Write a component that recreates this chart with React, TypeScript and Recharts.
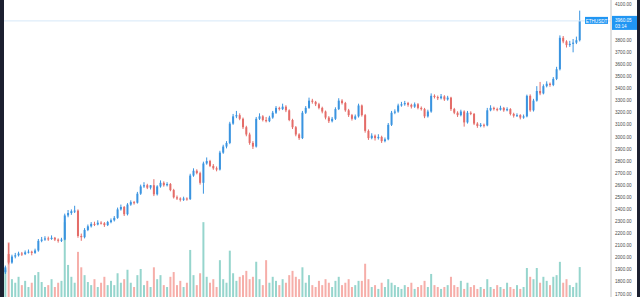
import React from "react";
import { ComposedChart, Bar, Cell, XAxis, YAxis, ReferenceLine } from "recharts";

// ETHUSDT 4h candles
const opens = [
  1880, 2030, 1960, 2010, 2020, 2035, 2030, 2045, 2050, 2040,
  2060, 2140, 2150, 2160, 2155, 2165, 2150, 2140, 2150, 2350,
  2370, 2385, 2390, 2180, 2170, 2230, 2260, 2280, 2275, 2290,
  2285, 2270, 2295, 2310, 2330, 2400, 2420, 2360, 2440, 2460,
  2455, 2530, 2590, 2600, 2580, 2600, 2525, 2590, 2620, 2600,
  2610, 2560, 2500, 2490, 2480, 2490, 2485, 2680, 2720, 2700,
  2620, 2780, 2800, 2760, 2740, 2730, 2870, 2920, 2950, 3110,
  3170, 3180, 3150, 3080, 3020, 2950, 2920, 3150, 3170, 3140,
  3130, 3160, 3200, 3240, 3230, 3250, 3220, 3140, 3080, 3020,
  2990, 3200, 3240, 3300, 3290, 3270, 3240, 3210, 3160, 3130,
  3150, 3230, 3300, 3280, 3220, 3180, 3150, 3170, 3260, 3180,
  3050, 2990, 3010, 2990, 3000, 2965, 2980, 3100, 3200, 3210,
  3260, 3270, 3280, 3265, 3250, 3270, 3240, 3230, 3170, 3210,
  3340, 3330, 3320, 3335, 3310, 3325, 3230, 3200, 3180, 3210,
  3120, 3200, 3190, 3110, 3090, 3100, 3095, 3220, 3240, 3230,
  3225, 3240, 3220, 3230, 3190, 3175, 3180, 3160, 3170, 3340,
  3220, 3300, 3380, 3360, 3420, 3440, 3430, 3480, 3560, 3820,
  3790, 3760, 3770, 3780, 3800,
];
const highs = [
  1935, 2120, 2025, 2040, 2050, 2048, 2060, 2068, 2058, 2075,
  2155, 2172, 2178, 2175, 2185, 2172, 2160, 2165, 2365, 2395,
  2400, 2430, 2400, 2200, 2245, 2275, 2295, 2298, 2310, 2302,
  2295, 2305, 2325, 2345, 2415, 2440, 2428, 2452, 2475, 2470,
  2545, 2605, 2625, 2612, 2600, 2650, 2600, 2640, 2632, 2625,
  2618, 2570, 2515, 2500, 2505, 2500, 2695, 2740, 2732, 2712,
  2795, 2830, 2810, 2775, 2755, 2885, 2935, 2965, 3125, 3190,
  3215, 3195, 3160, 3092, 3035, 2965, 3165, 3195, 3180, 3165,
  3175, 3215, 3255, 3250, 3275, 3262, 3228, 3150, 3090, 3030,
  3215, 3255, 3325, 3315, 3298, 3282, 3250, 3218, 3172, 3165,
  3245, 3320, 3312, 3290, 3232, 3190, 3185, 3275, 3268, 3190,
  3062, 3030, 3020, 3022, 3010, 2995, 3115, 3215, 3228, 3275,
  3290, 3298, 3290, 3275, 3285, 3280, 3252, 3240, 3225, 3360,
  3352, 3342, 3355, 3345, 3340, 3332, 3240, 3212, 3225, 3220,
  3215, 3212, 3198, 3122, 3115, 3110, 3240, 3262, 3250, 3242,
  3258, 3248, 3245, 3238, 3200, 3195, 3188, 3185, 3350, 3352,
  3315, 3420, 3455, 3435, 3460, 3450, 3495, 3580, 3840, 3835,
  3800, 3795, 3810, 3830, 4045,
];
const lows = [
  1865, 1945, 1950, 1995, 2010, 2015, 2022, 2035, 2020, 2032,
  2050, 2128, 2140, 2140, 2148, 2138, 2125, 2130, 2145, 2335,
  2355, 2370, 2165, 2140, 2160, 2220, 2250, 2262, 2268, 2275,
  2255, 2262, 2285, 2300, 2322, 2390, 2345, 2350, 2430, 2440,
  2448, 2520, 2578, 2568, 2565, 2510, 2515, 2580, 2588, 2590,
  2550, 2490, 2478, 2465, 2470, 2472, 2478, 2670, 2690, 2605,
  2530, 2770, 2750, 2728, 2715, 2722, 2860, 2905, 2940, 3100,
  3155, 3138, 3065, 3005, 2935, 2900, 2912, 3140, 3128, 3120,
  3122, 3150, 3190, 3218, 3222, 3205, 3130, 3065, 3005, 2975,
  2982, 3190, 3232, 3275, 3255, 3228, 3195, 3145, 3115, 3120,
  3140, 3222, 3268, 3208, 3165, 3135, 3140, 3160, 3168, 3035,
  2975, 2980, 2970, 2978, 2950, 2955, 2972, 3090, 3188, 3200,
  3250, 3258, 3250, 3235, 3240, 3228, 3218, 3155, 3160, 3200,
  3318, 3305, 3310, 3298, 3300, 3215, 3188, 3165, 3170, 3085,
  3110, 3180, 3098, 3075, 3080, 3078, 3088, 3212, 3218, 3212,
  3218, 3208, 3212, 3178, 3160, 3165, 3145, 3150, 3162, 3208,
  3210, 3292, 3345, 3352, 3410, 3415, 3420, 3470, 3550, 3775,
  3740, 3745, 3700, 3768, 3790,
];
const closes = [
  1920, 1960, 2010, 2020, 2035, 2030, 2045, 2050, 2040, 2060,
  2140, 2150, 2160, 2155, 2165, 2150, 2140, 2150, 2350, 2370,
  2385, 2390, 2180, 2170, 2230, 2260, 2280, 2275, 2290, 2285,
  2270, 2295, 2310, 2330, 2400, 2420, 2360, 2440, 2460, 2455,
  2530, 2590, 2600, 2580, 2600, 2525, 2590, 2620, 2600, 2610,
  2560, 2500, 2490, 2480, 2490, 2485, 2680, 2720, 2700, 2620,
  2780, 2800, 2760, 2740, 2730, 2870, 2920, 2950, 3110, 3170,
  3180, 3150, 3080, 3020, 2950, 2920, 3150, 3170, 3140, 3130,
  3160, 3200, 3240, 3230, 3250, 3220, 3140, 3080, 3020, 2990,
  3200, 3240, 3300, 3290, 3270, 3240, 3210, 3160, 3130, 3150,
  3230, 3300, 3280, 3220, 3180, 3150, 3170, 3260, 3180, 3050,
  2990, 3010, 2990, 3000, 2965, 2980, 3100, 3200, 3210, 3260,
  3270, 3280, 3265, 3250, 3270, 3240, 3230, 3170, 3210, 3340,
  3330, 3320, 3335, 3310, 3325, 3230, 3200, 3180, 3210, 3120,
  3200, 3190, 3110, 3090, 3100, 3095, 3220, 3240, 3230, 3225,
  3240, 3220, 3230, 3190, 3175, 3180, 3160, 3170, 3340, 3220,
  3300, 3380, 3360, 3420, 3440, 3430, 3480, 3560, 3820, 3790,
  3760, 3770, 3780, 3800, 3960,
];
const volumes = [
  115, 230, 75, 60, 85, 50, 68, 42, 60, 92,
  105, 63, 42, 50, 75, 42, 60, 68, 315, 135,
  85, 60, 190, 125, 92, 63, 50, 75, 42, 60,
  85, 50, 68, 50, 100, 60, 75, 115, 60, 42,
  92, 118, 50, 68, 42, 125, 75, 92, 50, 42,
  85, 105, 50, 68, 42, 60, 198, 92, 50, 100,
  315, 85, 60, 75, 42, 155, 75, 60, 195, 100,
  68, 85, 92, 110, 75, 85, 148, 75, 50, 155,
  60, 85, 68, 50, 75, 60, 92, 110, 85, 75,
  125, 60, 92, 50, 42, 68, 50, 75, 60, 42,
  68, 85, 50, 60, 75, 42, 50, 68, 68, 140,
  75, 42, 50, 34, 60, 42, 75, 60, 50, 42,
  34, 50, 42, 60, 34, 42, 50, 68, 42, 97,
  50, 42, 34, 42, 50, 85, 50, 42, 68, 34,
  60, 42, 50, 34, 42, 34, 75, 42, 34, 50,
  42, 34, 60, 42, 34, 50, 34, 42, 122, 85,
  75, 122, 60, 85, 68, 50, 85, 92, 148, 60,
  75, 50, 42, 60, 126,
];

const priceTicks = [1700, 1800, 1900, 2000, 2100, 2200, 2300, 2400, 2500, 2600, 2700, 2800, 2900, 3000, 3100, 3200, 3300, 3400, 3500, 3600, 3700, 3800, 3900, 4000, 4100];
const symbol = "ETHUSDT";
const lastPrice = 3960.05;
const countdown = "03:14";

const UP = "#3a94e0";
const DOWN = "#e46c68";
const VOL_UP = "#96d5cd";
const VOL_DOWN = "#f6aea9";
const TAG = "#2196f3";
const FONT = "Liberation Sans, Arial, sans-serif";

const data = closes.map((c, i) => ({
  i,
  open: opens[i],
  high: highs[i],
  low: lows[i],
  close: c,
  range: [lows[i], highs[i]],
  volume: volumes[i],
}));

const Candle = (props: any) => {
  const { x, y, width, height, payload } = props;
  const { open, close, high, low } = payload;
  const toY = (v: number) => y + ((high - v) / (high - low)) * height;
  const color = close >= open ? UP : DOWN;
  const top = toY(Math.max(open, close));
  const bottom = toY(Math.min(open, close));
  const cx = x + width / 2;
  return (
    <g>
      <line x1={cx} x2={cx} y1={y} y2={y + height} stroke={color} strokeWidth={1} />
      <rect x={x} y={top} width={width} height={Math.max(bottom - top, 1)} fill={color} />
    </g>
  );
};

// the last-price tag covers the axis label it sits on
const PriceTick = (props: any) => {
  const { x, y, payload } = props;
  if (Math.abs(payload.value - lastPrice) < 70) return <g />;
  return (
    <text x={x} y={y} dy={1.6} fontSize={4.6} fill="#4a4a4a" fontFamily={FONT} textAnchor="start">
      {Number(payload.value).toFixed(2)}
    </text>
  );
};

const PriceTag = (props: any) => {
  const { x, y, width } = props.viewBox;
  const right = x + width;
  return (
    <g fontFamily={FONT}>
      <rect x={right - 26} y={y - 4} width={23} height={7} fill={TAG} />
      <text x={right - 14.5} y={y + 1.8} fontSize={4.6} fill="#fff" textAnchor="middle">{symbol}</text>
      <rect x={right + 1} y={y - 5} width={27} height={14} fill={TAG} />
      <text x={right + 4} y={y + 1.6} fontSize={4.6} fill="#fff">{lastPrice.toFixed(2)}</text>
      <text x={right + 4} y={y + 7.2} fontSize={4.6} fill="#fff">{countdown}</text>
    </g>
  );
};

export default function App() {
  return (
    <div style={{ position: "fixed", left: 0, top: 0, width: 640, height: 297, background: "#fff", overflow: "hidden" }}>
      <ComposedChart width={640} height={297} data={data} margin={{ top: 0, right: 0, bottom: 0, left: 0 }}>
        <XAxis xAxisId="p" dataKey="i" type="category" hide padding={{ left: 3.35, right: 30 }} />
        <XAxis xAxisId="v" dataKey="i" type="category" hide padding={{ left: 3.35, right: 30 }} />
        <YAxis
          yAxisId="price"
          orientation="right"
          width={29}
          domain={[1675, 4133]}
          ticks={priceTicks}
          interval={0}
          tick={<PriceTick />}
          tickSize={0}
          tickMargin={4}
          axisLine={{ stroke: "#c4c4c4" }}
          allowDataOverflow
        />
        <YAxis yAxisId="vol" hide domain={[0, 1250]} />
        <Bar xAxisId="v" yAxisId="vol" dataKey="volume" barSize={2} isAnimationActive={false}>
          {data.map((d, k) => (
            <Cell key={`v-${k}`} fill={d.close >= d.open ? VOL_UP : VOL_DOWN} />
          ))}
        </Bar>
        <Bar xAxisId="p" yAxisId="price" dataKey="range" barSize={2} shape={<Candle />} isAnimationActive={false} />
        <ReferenceLine xAxisId="p" yAxisId="price" y={lastPrice} stroke="#d6e8f8" strokeWidth={1} label={<PriceTag />} />
      </ComposedChart>
      <div style={{ position: "absolute", left: 0, top: 0, width: 4, height: 297, background: "#1c2030" }} />
      <div style={{ position: "absolute", left: 637, top: 0, width: 3, height: 297, background: "#1c2030" }} />
    </div>
  );
}
